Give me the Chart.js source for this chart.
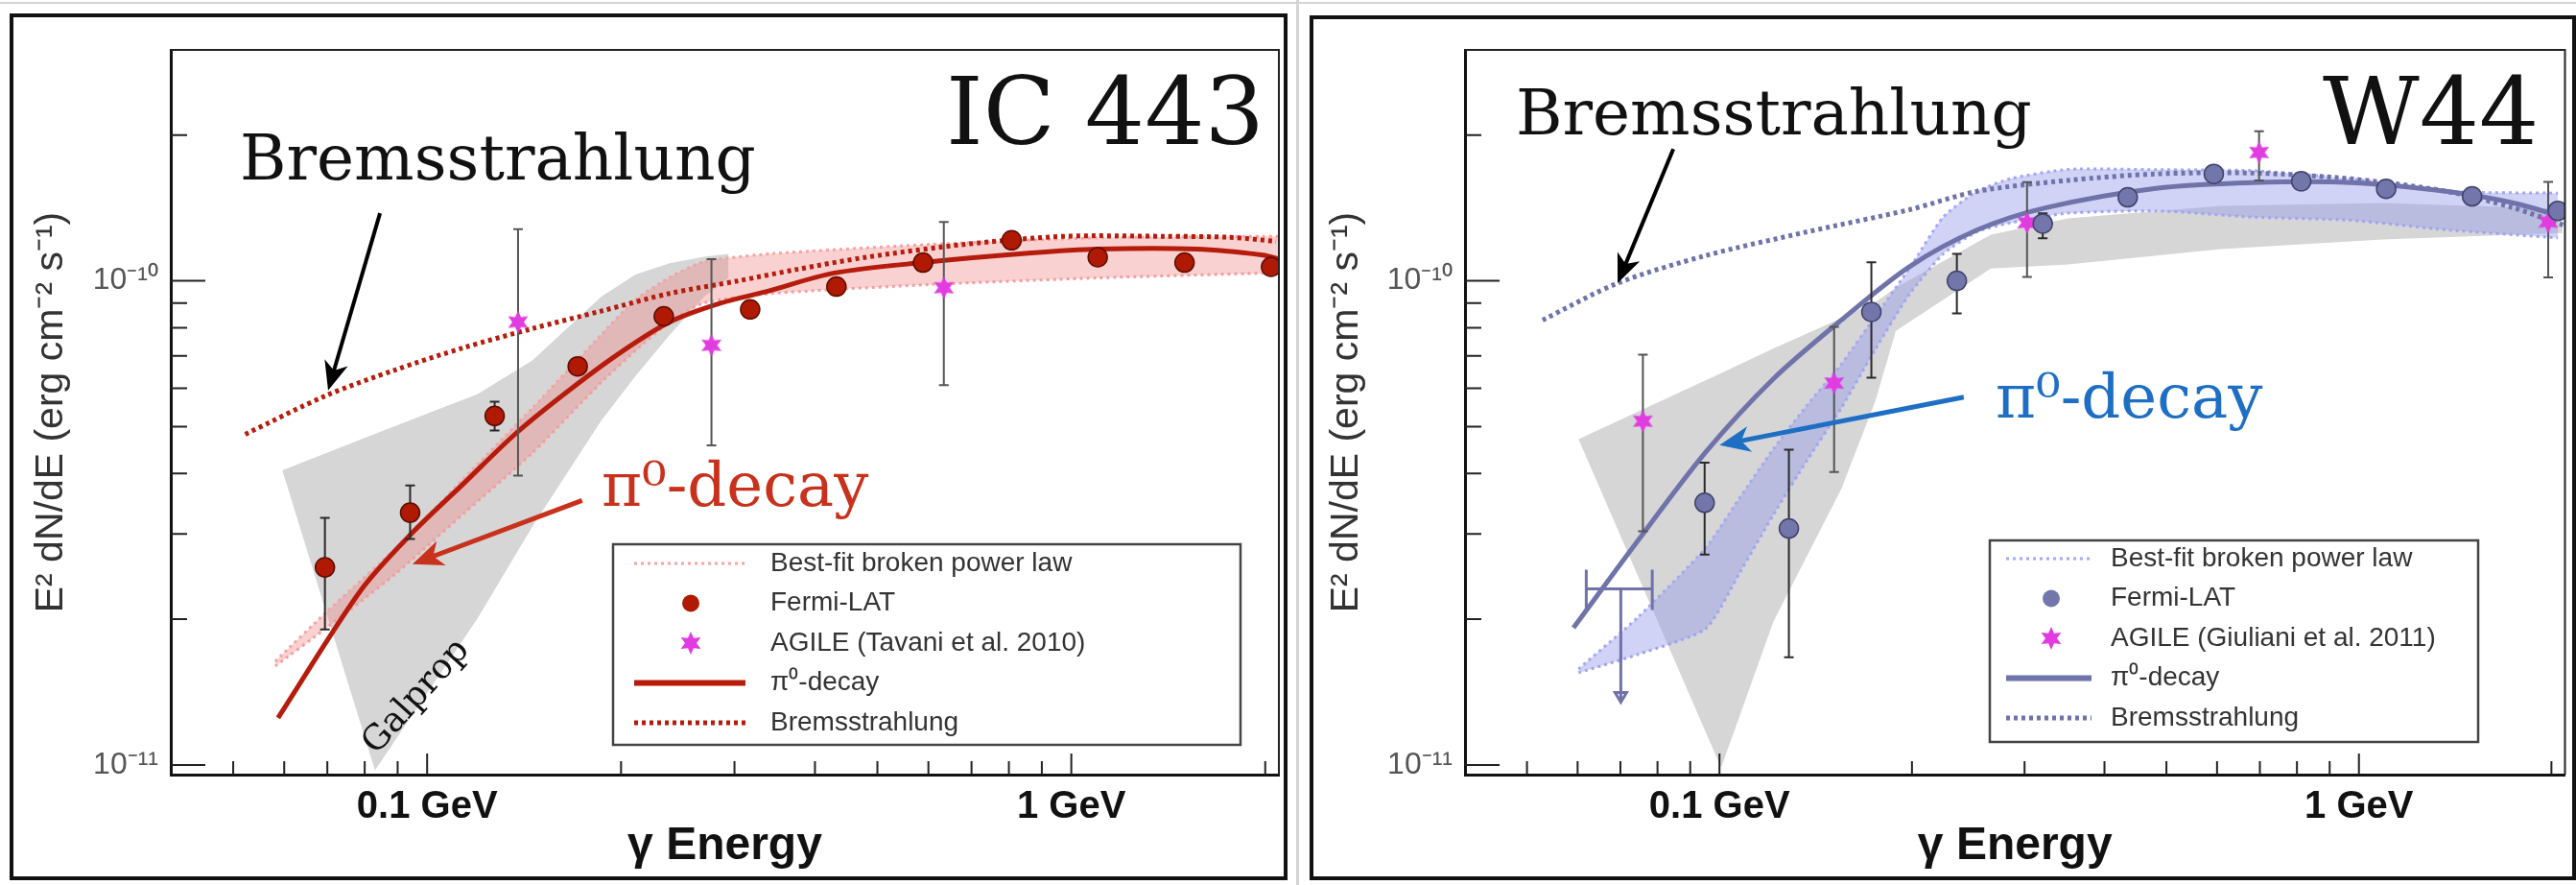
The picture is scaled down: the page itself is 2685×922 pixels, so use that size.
<!DOCTYPE html>
<html>
<head>
<meta charset="utf-8">
<script src="https://cdn.jsdelivr.net/npm/chart.js@4.4.0/dist/chart.umd.min.js"></script>
<style>
  html, body { margin: 0; padding: 0; background: #fff; }
  #wrap { position: relative; width: 2685px; height: 922px; overflow: hidden; background: #fff; }
  .frame { position: absolute; border: 4px solid #111; box-sizing: border-box; }
  #frameL { left: 10px; top: 14px; width: 1332px; height: 903px; }
  #frameR { left: 1365px; top: 16px; width: 1320px; height: 901px; }
  .sep { position: absolute; background: #d4d4d4; }
  canvas { position: absolute; top: 0; }
  #cL { left: 0; }
  #cR { left: 1350px; }
</style>
</head>
<body>
<div id="wrap">
  <div class="sep" style="left:0;top:2px;width:2685px;height:2px"></div>
  <div class="sep" style="left:1351px;top:0;width:3px;height:922px"></div>
  <div class="frame" id="frameL"></div>
  <div class="frame" id="frameR"></div>
  <canvas id="cL" width="1350" height="922"></canvas>
  <canvas id="cR" width="1335" height="922"></canvas>
</div>
<script>
  "use strict";

  // flux values are in units of 1e-11 erg cm^-2 s^-1, energies in GeV
  const UNIT = 1e-11;

  // axes
  const xTickVals = [0.05, 0.06, 0.07, 0.08, 0.09, 0.1, 0.2, 0.3, 0.4, 0.5, 0.6, 0.7, 0.8, 0.9, 1, 2];
  const xLabelVals = [0.1, 1];
  const xLabelText = ["0.1 GeV", "1 GeV"];
  const yTickVals = [1e-11, 2e-11, 3e-11, 4e-11, 5e-11, 6e-11, 7e-11, 8e-11, 9e-11, 1e-10, 2e-10];
  const yLabelVals = [1e-11, 1e-10];
  const yLabelText = ["10\u207B\u00B9\u00B9", "10\u207B\u00B9\u2070"];

  // ---- IC 443 ----
  const icFermiE = [0.0694, 0.0941, 0.1273, 0.1713, 0.233, 0.3173, 0.4319, 0.5886, 0.8079, 1.099, 1.499, 2.042];
  const icFermiF = [2.56, 3.32, 5.26, 6.66, 8.45, 8.73, 9.73, 10.91, 12.13, 11.19, 10.91, 10.69];
  const icFermiHi = [3.24, 3.78, 5.63, null, null, null, null, null, null, null, null, null];
  const icFermiLo = [1.905, 2.93, 4.91, null, null, null, null, null, null, null, null, null];

  const icAgileE = [0.1384, 0.2763, 0.634];
  const icAgileF = [8.22, 7.36, 9.68];
  const icAgileHi = [12.79, 11.09, 13.23];
  const icAgileLo = [3.96, 4.57, 6.09];

  const icPionE = [0.0587, 0.079, 0.0949, 0.1141, 0.1371, 0.1647, 0.198, 0.2379, 0.2859, 0.337, 0.4268, 0.5871, 0.8674, 1.099, 1.566, 1.983, 2.1];
  const icPionF = [1.251, 2.3, 3.02, 3.82, 4.83, 5.89, 7.06, 8.22, 9.0, 9.51, 10.37, 10.91, 11.42, 11.63, 11.63, 11.31, 11.1];

  const icBremE = [0.0522, 0.0698, 0.0893, 0.1141, 0.1457, 0.1862, 0.2379, 0.3041, 0.3735, 0.4803, 0.6846, 0.9759, 1.391, 1.762, 2.079];
  const icBremF = [4.82, 5.8, 6.55, 7.28, 7.97, 8.66, 9.42, 10.0, 10.55, 11.19, 11.9, 12.36, 12.36, 12.3, 12.07];

  const icFitE = [0.0581, 0.0698, 0.0893, 0.1141, 0.1457, 0.1862, 0.2105, 0.2379, 0.269, 0.3437, 0.608, 1.097, 1.983, 2.1];
  const icFitHi = [1.637, 2.07, 2.8, 3.91, 5.46, 7.73, 9.14, 10.16, 10.96, 11.38, 11.9, 12.27, 12.36, 12.36];
  const icFitLo = [1.6, 1.919, 2.48, 3.31, 4.41, 6.16, 7.17, 8.22, 9.0, 9.42, 9.83, 10.14, 10.37, 10.37];

  const icGalE = [0.0596, 0.083, 0.1198, 0.1457, 0.1862, 0.2105, 0.2379, 0.269, 0.2938];
  const icGalHi = [4.06, 4.83, 5.84, 6.85, 9.27, 10.31, 10.88, 11.21, 11.37];
  const icGalLo = [4.06, 0.975, 2.01, 3.11, 5.14, 6.35, 7.73, 9.27, 10.14];

  const icBremArrowE = [0.0845, 0.0702];
  const icBremArrowF = [13.8, 5.94];
  const icPionArrowE = [0.174, 0.0949];
  const icPionArrowF = [3.52, 2.6];

  const icLegendText = ["Best-fit broken power law", "Fermi-LAT", "AGILE (Tavani et al. 2010)", "\u03C0\u2070-decay", "Bremsstrahlung"];

  // ---- W44 ----
  const w44FermiE = [0.0948, 0.1284, 0.1728, 0.2351, 0.3203, 0.435, 0.593, 0.8124, 1.103, 1.503, 2.047];
  const w44FermiF = [3.48, 3.08, 8.63, 10.0, 13.13, 14.88, 16.63, 16.06, 15.49, 14.95, 13.95];
  const w44FermiHi = [4.21, 4.48, 10.93, 11.37, 13.79, null, null, null, null, null, null];
  const w44FermiLo = [2.72, 1.668, 6.31, 8.57, 12.24, null, null, null, null, null, null];

  const w44AgileE = [0.0759, 0.1511, 0.3027, 0.698, 1.977];
  const w44AgileF = [5.13, 6.15, 13.19, 18.42, 13.23];
  const w44AgileHi = [7.04, 8.04, 16.0, 20.37, 16.01];
  const w44AgileLo = [3.04, 4.03, 10.19, 16.13, 10.17];

  // upper limit: energy bin low / centre / high, flux, arrow tip
  const w44LimitE = [0.0619, 0.0701, 0.0785];
  const w44LimitF = [2.31, 1.348];

  const w44PionE = [0.0591, 0.0746, 0.0952, 0.1215, 0.1551, 0.1982, 0.253, 0.323, 0.4815, 0.6833, 0.97, 1.376, 1.739, 2.09];
  const w44PionF = [1.92, 2.91, 4.43, 6.28, 8.3, 10.7, 12.74, 14.15, 15.53, 15.96, 15.96, 15.3, 14.5, 13.54];

  const w44BremE = [0.0529, 0.0693, 0.0952, 0.1373, 0.1982, 0.253, 0.351, 0.4815, 0.6833, 0.97, 1.376, 1.739, 2.09];
  const w44BremF = [8.3, 9.89, 11.28, 12.63, 14.03, 15.31, 16.13, 16.63, 16.7, 16.25, 15.3, 14.17, 13.03];

  const w44FitE = [0.0602, 0.0746, 0.0952, 0.1075, 0.1215, 0.1373, 0.1551, 0.1753, 0.1982, 0.2239, 0.253, 0.2859, 0.351, 0.4815, 0.6833, 0.97, 1.376, 2.047];
  const w44FitHi = [1.578, 2.02, 2.81, 3.56, 4.5, 5.55, 6.73, 8.45, 10.61, 13.55, 15.31, 16.27, 17.0, 16.97, 16.89, 16.25, 15.3, 15.18];
  const w44FitLo = [1.55, 1.692, 1.912, 2.49, 3.29, 4.27, 5.46, 7.22, 9.38, 11.37, 12.64, 13.19, 13.8, 13.95, 13.54, 13.34, 12.74, 12.27];

  const w44GalE = [0.0602, 0.1006, 0.1215, 0.1551, 0.1753, 0.1887, 0.2657, 0.351, 0.6081, 1.09, 2.08];
  const w44GalHi = [4.71, 6.45, 7.25, 8.37, 9.04, 9.68, 12.45, 13.46, 14.28, 14.48, 14.09];
  const w44GalLo = [4.71, 0.987, 1.98, 3.72, 5.65, 7.88, 10.61, 10.81, 11.63, 12.17, 12.56];

  const w44BremArrowE = [0.0847, 0.0693];
  const w44BremArrowF = [18.73, 9.89];
  const w44PionArrowE = [0.241, 0.1];
  const w44PionArrowF = [5.75, 4.58];

  const w44LegendText = ["Best-fit broken power law", "Fermi-LAT", "AGILE (Giuliani et al. 2011)", "\u03C0\u2070-decay", "Bremsstrahlung"];

  const SANS = '"Liberation Sans", Arial, Helvetica, sans-serif';
  const SERIF = '"DejaVu Serif", "Liberation Serif", serif';
  const GRAY = "#d6d6d6";
  const MAGENTA = "#e03ce0";

  function pts(E, F) {
    return E.map((e, i) => ({ x: e, y: F[i] * UNIT }));
  }

  function labelFor(v, vals, texts) {
    const i = vals.findIndex((t) => Math.abs(t - v) / t < 1e-6);
    return i < 0 ? "" : texts[i];
  }

  function starImage(color, r) {
    const c = document.createElement("canvas");
    c.width = c.height = 2 * r + 2;
    const g = c.getContext("2d");
    g.fillStyle = color;
    g.beginPath();
    for (let i = 0; i < 12; i++) {
      const a = -Math.PI / 2 + (i * Math.PI) / 6;
      const rr = i % 2 ? r * 0.5 : r;
      g.lineTo(r + 1 + rr * Math.cos(a), r + 1 + rr * Math.sin(a));
    }
    g.closePath();
    g.fill();
    return c;
  }

  function drawErrorBars(chart, ds) {
    const { ctx, scales: { x, y } } = chart;
    ctx.save();
    ctx.strokeStyle = ds.errColor;
    ctx.lineWidth = 2;
    ds.data.forEach((p, i) => {
      if (ds.errHi[i] == null) return;
      const px = x.getPixelForValue(p.x);
      const top = y.getPixelForValue(ds.errHi[i] * UNIT);
      const bot = y.getPixelForValue(ds.errLo[i] * UNIT);
      ctx.beginPath();
      ctx.moveTo(px, top); ctx.lineTo(px, bot);
      ctx.moveTo(px - 5, top); ctx.lineTo(px + 5, top);
      ctx.moveTo(px - 5, bot); ctx.lineTo(px + 5, bot);
      ctx.stroke();
    });
    ctx.restore();
  }

  function drawArrow(chart, E, F, color, width, head) {
    const { ctx, scales: { x, y } } = chart;
    const x0 = x.getPixelForValue(E[0]), y0 = y.getPixelForValue(F[0] * UNIT);
    const x1 = x.getPixelForValue(E[1]), y1 = y.getPixelForValue(F[1] * UNIT);
    const ang = Math.atan2(y1 - y0, x1 - x0);
    ctx.save();
    ctx.strokeStyle = ctx.fillStyle = color;
    ctx.lineWidth = width;
    ctx.beginPath();
    ctx.moveTo(x0, y0);
    ctx.lineTo(x1 - head * 0.7 * Math.cos(ang), y1 - head * 0.7 * Math.sin(ang));
    ctx.stroke();
    ctx.translate(x1, y1);
    ctx.rotate(ang);
    ctx.beginPath();
    ctx.moveTo(0, 0);
    ctx.lineTo(-head, -head * 0.42);
    ctx.lineTo(-head * 0.72, 0);
    ctx.lineTo(-head, head * 0.42);
    ctx.closePath();
    ctx.fill();
    ctx.restore();
  }

  function drawLimit(chart, E, F, color) {
    const { ctx, scales: { x, y } } = chart;
    const xl = x.getPixelForValue(E[0]), xc = x.getPixelForValue(E[1]), xr = x.getPixelForValue(E[2]);
    const yv = y.getPixelForValue(F[0] * UNIT), yt = y.getPixelForValue(F[1] * UNIT);
    ctx.save();
    ctx.strokeStyle = color;
    ctx.lineWidth = 3;
    ctx.beginPath();
    ctx.moveTo(xl, yv); ctx.lineTo(xr, yv);
    ctx.moveTo(xl, yv - 20); ctx.lineTo(xl, yv + 22);
    ctx.moveTo(xr, yv - 20); ctx.lineTo(xr, yv + 22);
    ctx.moveTo(xc, yv); ctx.lineTo(xc, yt);
    ctx.moveTo(xc - 6, yt - 10); ctx.lineTo(xc, yt); ctx.lineTo(xc + 6, yt - 10); ctx.closePath();
    ctx.stroke();
    ctx.restore();
  }

  function drawAxesExtras(chart) {
    const { ctx, chartArea: a, scales: { x, y } } = chart;
    ctx.save();
    ctx.strokeStyle = "#222";
    ctx.lineWidth = 2;
    ctx.beginPath();
    x.ticks.forEach((t) => {
      const px = x.getPixelForValue(t.value);
      ctx.moveTo(px, a.bottom);
      ctx.lineTo(px, a.bottom - (t.label ? 22 : 14));
    });
    y.ticks.forEach((t) => {
      const py = y.getPixelForValue(t.value);
      ctx.moveTo(a.left, py);
      ctx.lineTo(a.left + (t.label ? 36 : 17), py);
    });
    ctx.moveTo(a.left, a.top); ctx.lineTo(a.right, a.top); ctx.lineTo(a.right, a.bottom);
    ctx.stroke();
    ctx.restore();
  }

  function drawTexts(ctx, list) {
    list.forEach((t) => {
      ctx.save();
      ctx.font = t.size + "px " + SERIF;
      ctx.fillStyle = t.color;
      ctx.textBaseline = "alphabetic";
      ctx.translate(t.x, t.y);
      if (t.rot) ctx.rotate((t.rot * Math.PI) / 180);
      ctx.fillText(t.text, 0, 0);
      ctx.restore();
    });
  }

  function drawLegend(chart, lg, texts) {
    const ctx = chart.ctx;
    ctx.save();
    ctx.fillStyle = "#fff";
    ctx.fillRect(lg.x, lg.y, lg.w, lg.h);
    ctx.strokeStyle = "#444";
    ctx.lineWidth = 2.5;
    ctx.strokeRect(lg.x, lg.y, lg.w, lg.h);
    ctx.font = "28px " + SANS;
    ctx.textBaseline = "middle";
    lg.items.forEach((idx, i) => {
      const ds = chart.data.datasets[idx];
      const yy = lg.y + lg.first + i * lg.step;
      if (ds.showLine !== false) {
        ctx.save();
        ctx.strokeStyle = ds.borderColor;
        ctx.lineWidth = ds.legendWidth || ds.borderWidth;
        ctx.setLineDash(ds.borderDash || []);
        ctx.beginPath();
        ctx.moveTo(lg.lineX0, yy);
        ctx.lineTo(lg.lineX1, yy);
        ctx.stroke();
        ctx.restore();
      } else if (ds.pointStyle instanceof HTMLCanvasElement) {
        ctx.drawImage(ds.pointStyle, lg.markX - ds.pointStyle.width / 2, yy - ds.pointStyle.height / 2);
      } else {
        ctx.beginPath();
        ctx.arc(lg.markX, yy, 9, 0, Math.PI * 2);
        ctx.fillStyle = ds.pointBackgroundColor;
        ctx.fill();
      }
      ctx.fillStyle = "#333";
      ctx.fillText(texts[i], lg.textX, yy);
    });
    ctx.restore();
  }

  function makeChart(id, p) {
    const star = starImage(MAGENTA, 12);
    const datasets = [
      { label: "Fermi-LAT", data: pts(p.fermiE, p.fermiF), showLine: false, pointRadius: 10,
        pointBackgroundColor: p.dotFill, pointBorderColor: p.dotEdge, pointBorderWidth: 1.5,
        errLo: p.fermiLo, errHi: p.fermiHi, errColor: "#2a2a2a", order: 0 },
      { label: "AGILE", data: pts(p.agileE, p.agileF), showLine: false, pointRadius: 10, pointStyle: star,
        errLo: p.agileLo, errHi: p.agileHi, errColor: "#555", order: 1 },
      { label: "pi0", data: pts(p.pionE, p.pionF), borderColor: p.line, borderWidth: 5, legendWidth: 6,
        pointRadius: 0, tension: 0.3, fill: false, order: 2 },
      { label: "brems", data: pts(p.bremE, p.bremF), borderColor: p.line, borderWidth: 5, borderDash: [4, 4],
        pointRadius: 0, tension: 0.3, fill: false, order: 3 },
      { label: "fit", data: pts(p.fitE, p.fitHi), borderColor: p.fitEdge, borderWidth: 3, borderDash: [3, 4],
        backgroundColor: p.fitFill, fill: "+1", pointRadius: 0, tension: 0.2, order: 4 },
      { label: "fit low", data: pts(p.fitE, p.fitLo), borderColor: p.fitEdge, borderWidth: 3, borderDash: [3, 4],
        fill: false, pointRadius: 0, tension: 0.2, order: 5 },
      { label: "galprop", data: pts(p.galE, p.galHi), borderWidth: 0, borderColor: "rgba(0,0,0,0)",
        backgroundColor: GRAY, fill: "+1", pointRadius: 0, order: 6 },
      { label: "galprop low", data: pts(p.galE, p.galLo), borderWidth: 0, borderColor: "rgba(0,0,0,0)",
        fill: false, pointRadius: 0, order: 7 },
    ];

    const extras = {
      id: "extras",
      beforeDatasetDraw(chart, args) {
        const ds = chart.data.datasets[args.index];
        if (ds.errHi) drawErrorBars(chart, ds);
      },
      afterDraw(chart) {
        drawAxesExtras(chart);
        if (p.limitE) drawLimit(chart, p.limitE, p.limitF, p.line);
        p.arrows.forEach((a) => drawArrow(chart, a.E, a.F, a.color, a.width, a.head));
        drawTexts(chart.ctx, p.texts);
        drawLegend(chart, p.legend, p.legendText);
      },
    };

    return new Chart(document.getElementById(id), {
      type: "line",
      data: { datasets },
      plugins: [extras],
      options: {
        responsive: false,
        animation: false,
        events: [],
        devicePixelRatio: 1,
        layout: { padding: { top: 52, right: p.width - p.plotRight, bottom: 0, left: 0 } },
        plugins: { legend: { display: false }, tooltip: { enabled: false } },
        scales: {
          x: {
            type: "logarithmic",
            min: 0.04,
            max: 2.1,
            afterFit: (s) => { s.height = 922 - 807; },
            afterBuildTicks: (s) => { s.ticks = xTickVals.map((v) => ({ value: v })); },
            grid: { display: false, drawTicks: false },
            border: { display: true, color: "#111", width: 3 },
            ticks: {
              autoSkip: false, maxRotation: 0, padding: 10, color: "#111",
              font: { family: SANS, size: 40, weight: "bold" },
              callback: (v) => labelFor(v, xLabelVals, xLabelText),
            },
            title: { display: true, text: "\u03B3 Energy", color: "#111",
              font: { family: SANS, size: 48, weight: "bold" }, padding: { top: 0, bottom: 11 } },
          },
          y: {
            type: "logarithmic",
            min: 9.55e-12,
            max: 3.0e-10,
            afterFit: (s) => { s.width = p.plotLeft; },
            afterBuildTicks: (s) => { s.ticks = yTickVals.map((v) => ({ value: v })); },
            grid: { display: false, drawTicks: false },
            border: { display: true, color: "#111", width: 3 },
            ticks: {
              autoSkip: false, padding: 13, color: "#555",
              font: { family: SANS, size: 32 },
              callback: (v) => labelFor(v, yLabelVals, yLabelText),
            },
            title: { display: true, text: "E\u00B2 dN/dE (erg cm\u207B\u00B2 s\u207B\u00B9)", color: "#333",
              font: { family: SANS, size: 41 }, padding: { top: 29, bottom: 0 } },
          },
        },
      },
    });
  }

  makeChart("cL", {
    width: 1350, plotLeft: 178, plotRight: 1333,
    fermiE: icFermiE, fermiF: icFermiF, fermiLo: icFermiLo, fermiHi: icFermiHi,
    agileE: icAgileE, agileF: icAgileF, agileLo: icAgileLo, agileHi: icAgileHi,
    pionE: icPionE, pionF: icPionF, bremE: icBremE, bremF: icBremF,
    fitE: icFitE, fitHi: icFitHi, fitLo: icFitLo,
    galE: icGalE, galHi: icGalHi, galLo: icGalLo,
    line: "#b51c0c", dotFill: "#b01a04", dotEdge: "#5e0c00",
    fitEdge: "#f5a3a3", fitFill: "rgba(242,140,140,0.4)",
    arrows: [
      { E: icBremArrowE, F: icBremArrowF, color: "#000", width: 4, head: 30 },
      { E: icPionArrowE, F: icPionArrowF, color: "#c8321c", width: 5, head: 32 },
    ],
    texts: [
      { text: "IC 443", x: 986, y: 150, size: 98, color: "#111" },
      { text: "Bremsstrahlung", x: 250, y: 187, size: 66, color: "#111" },
      { text: "\u03C0\u2070-decay", x: 627, y: 527, size: 64, color: "#c8321c" },
      { text: "Galprop", x: 392, y: 787, size: 36, color: "#111", rot: -48 },
    ],
    legend: { x: 639, y: 567, w: 654, h: 209, first: 20, step: 41.5, lineX0: 661, lineX1: 777, markX: 720, textX: 803, items: [4, 0, 1, 2, 3] },
    legendText: icLegendText,
  });

  makeChart("cR", {
    width: 1335, plotLeft: 177, plotRight: 1330,
    fermiE: w44FermiE, fermiF: w44FermiF, fermiLo: w44FermiLo, fermiHi: w44FermiHi,
    agileE: w44AgileE, agileF: w44AgileF, agileLo: w44AgileLo, agileHi: w44AgileHi,
    pionE: w44PionE, pionF: w44PionF, bremE: w44BremE, bremF: w44BremF,
    fitE: w44FitE, fitHi: w44FitHi, fitLo: w44FitLo,
    galE: w44GalE, galHi: w44GalHi, galLo: w44GalLo,
    limitE: w44LimitE, limitF: w44LimitF,
    line: "#6f73a9", dotFill: "#7276aa", dotEdge: "#40436a",
    fitEdge: "#a3a8f5", fitFill: "rgba(150,155,235,0.45)",
    arrows: [
      { E: w44BremArrowE, F: w44BremArrowF, color: "#000", width: 4, head: 30 },
      { E: w44PionArrowE, F: w44PionArrowF, color: "#1e6fc4", width: 5, head: 32 },
    ],
    texts: [
      { text: "W44", x: 1071, y: 150, size: 98, color: "#111" },
      { text: "Bremsstrahlung", x: 230, y: 140, size: 66, color: "#111" },
      { text: "\u03C0\u2070-decay", x: 730, y: 435, size: 64, color: "#1e6fc4" },
    ],
    legend: { x: 724, y: 563, w: 509, h: 210, first: 19, step: 41.5, lineX0: 741, lineX1: 830, markX: 788, textX: 850, items: [4, 0, 1, 2, 3] },
    legendText: w44LegendText,
  });
</script>
</body>
</html>
